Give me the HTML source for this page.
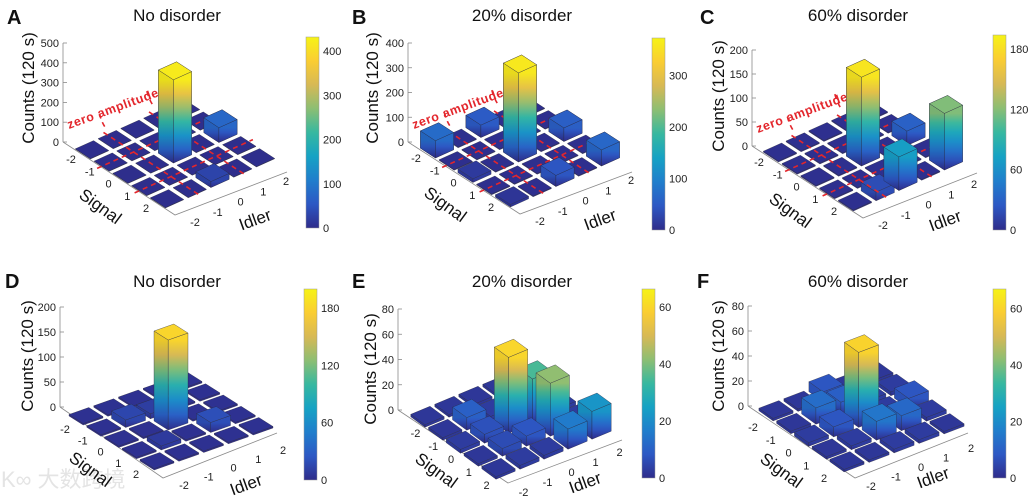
<!DOCTYPE html>
<html><head><meta charset="utf-8">
<style>
html,body{margin:0;padding:0;background:#fff;}
svg{display:block;font-family:"Liberation Sans",Arial,sans-serif;}
</style></head>
<body>
<svg id="fig" width="1030" height="503" viewBox="0 0 1030 503" xmlns="http://www.w3.org/2000/svg">
<defs id="defs"></defs>
<text x="1" y="487" font-size="22" fill="#e4e4e4" font-family="'Liberation Sans','Noto Sans CJK SC',sans-serif">K∞ 大数跨境</text>
</svg>
<script>
// rows: signal -2..2 ; columns: idler -2..2
const cellIndex = [-2,-1,0,1,2];
const valuesA = [[2,2,2,2,2],[2,2,2,2,2],[2,2,420,2,75],[2,2,2,2,2],[2,2,30,2,2]];
const valuesB = [[70,3,50,3,3],[3,3,3,3,3],[15,3,360,3,55],[3,3,3,3,3],[10,3,45,3,65]];
const valuesC = [[2,2,2,2,2],[2,2,2,2,2],[2,2,185,2,30],[2,2,2,2,2],[2,18,70,2,118]];
const valuesD = [[3,3,3,3,3],[3,15,10,3,3],[3,3,180,3,3],[3,8,3,20,3],[3,3,3,3,3]];
const valuesE = [[2,2,2,2,2],[2,10,3,10,2],[3,7,60,35,3],[2,6,8,42,3],[2,3,3,16,22]];
const valuesF = [[2,2,8,2,2],[2,13,10,3,3],[3,8,60,3,8],[2,3,15,12,3],[2,2,3,3,2]];
const zTicksA = [0,100,200,300,400,500];
const zTicksB = [0,100,200,300,400];
const zTicksC = [0,50,100,150,200];
const zTicksD = [0,50,100,150,200];
const zTicksE = [0,20,40,60,80];
const zTicksF = [0,20,40,60,80];
const cbTicksA = [0,100,200,300,400];
const cbTicksB = [0,100,200,300];
const cbTicksC = [0,60,120,180];
const cbTicksD = [0,60,120,180];
const cbTicksE = [0,20,40,60];
const cbTicksF = [0,20,40,60];
const cmaxA = 432, cmaxB = 373, cmaxC = 194, cmaxD = 200, cmaxE = 66.4, cmaxF = 67;
const titles = ["No disorder","20% disorder","60% disorder","No disorder","20% disorder","60% disorder"];
const letters = ["A","B","C","D","E","F"];

const NS="http://www.w3.org/2000/svg";
const svg=document.getElementById('fig');
const defs=document.getElementById('defs');
const PAR=[[0,[46,44,138]],[0.125,[45,88,196]],[0.25,[32,126,204]],[0.375,[22,162,196]],[0.5,[55,184,160]],[0.625,[140,190,115]],[0.75,[215,185,85]],[0.875,[250,205,50]],[1,[246,243,22]]];
function parula(t){t=Math.max(0,Math.min(1,t));for(let k=1;k<PAR.length;k++){if(t<=PAR[k][0]){const a=PAR[k-1],b=PAR[k];const f=(t-a[0])/(b[0]-a[0]);const c=a[1].map((v,j)=>Math.round(v+(b[1][j]-v)*f));return `rgb(${c[0]},${c[1]},${c[2]})`;}}return 'rgb(246,243,22)';}
function el(tag,attrs,parent){const e=document.createElementNS(NS,tag);for(const k in attrs)e.setAttribute(k,attrs[k]);(parent||svg).appendChild(e);return e;}
let gid=0;
function grad(y1,y2,tmax){const id='g'+(gid++);const g=el('linearGradient',{id:id,gradientUnits:'userSpaceOnUse',x1:0,x2:0,y1:y1,y2:y2},defs);for(let k=0;k<=6;k++){el('stop',{offset:k/6,'stop-color':parula(tmax*k/6)},g);}return id;}
function pts(a){return a.map(p=>p[0].toFixed(1)+','+p[1].toFixed(1)).join(' ');}

const panels=[
 {vals:valuesA,zt:zTicksA,cb:cbTicksA,cmax:cmaxA,C0:[175,154],sv:[18.75,12.25],iv:[22.75,-10.25],K:[63,142],F:[175,215],R:[287,172],zpx:99/500,sOff:[-21,9],iOff:[28,23],cbx:306,cbTop:37,cbBot:228,ylab:[28,88],sig:[97,205],idl:[257,219],title:[177,21],letter:[7,24],zero:true},
 {vals:valuesB,zt:zTicksB,cb:cbTicksB,cmax:cmaxB,C0:[520,153],sv:[18.75,12.25],iv:[22.75,-10.25],K:[408,142],F:[520,214],R:[632,172],zpx:99/400,sOff:[-21,9],iOff:[28,23],cbx:652,cbTop:38,cbBot:230,ylab:[372,88],sig:[442,203],idl:[602,219],title:[522,21],letter:[352,24],zero:true},
 {vals:valuesC,zt:zTicksC,cb:cbTicksC,cmax:cmaxC,C0:[863,157],sv:[18.75,12.25],iv:[22.75,-10.25],K:[752,146],F:[863,218],R:[977,173],zpx:96/200,sOff:[-21,9],iOff:[28,23],cbx:993,cbTop:35,cbBot:230,ylab:[718,96],sig:[787,209],idl:[947,220],title:[858,21],letter:[700,24],zero:true},
 {vals:valuesD,zt:zTicksD,cb:cbTicksD,cmax:cmaxD,C0:[171,422],sv:[17.75,11.25],iv:[24.75,-8.75],K:[60,407],F:[163,478],R:[277,433],zpx:100/200,sOff:[-21,12],iOff:[27,23],cbx:304,cbTop:289,cbBot:480,ylab:[27,356],sig:[87,468],idl:[248,484],title:[177,287],letter:[5,288],zero:false},
 {vals:valuesE,zt:zTicksE,cb:cbTicksE,cmax:cmaxE,C0:[511,424],sv:[17.75,13],iv:[24,-10],K:[398,410],F:[508,483],R:[622,440],zpx:101/80,sOff:[-12,15],iOff:[25,22],cbx:642,cbTop:289,cbBot:478,ylab:[370,369],sig:[433,469],idl:[587,482],title:[522,287],letter:[352,288],zero:false},
 {vals:valuesF,zt:zTicksF,cb:cbTicksF,cmax:cmaxF,C0:[861.5,418.5],sv:[17.75,12.75],iv:[25,-9.5],K:[748,406],F:[855,478],R:[968,433],zpx:100/80,sOff:[-23,15],iOff:[24,23],cbx:993,cbTop:289,cbBot:478,ylab:[718,356],sig:[778,469],idl:[935,477],title:[858,287],letter:[697,288],zero:false}
];

panels.forEach((P,pi)=>{
 const g=el('g',{});
 
 
 const pos=(a,b)=>[P.C0[0]+a*P.sv[0]+b*P.iv[0],P.C0[1]+a*P.sv[1]+b*P.iv[1]];
 const L=el('text',{x:P.letter[0],y:P.letter[1],'font-size':20,'font-weight':'bold',fill:'#111'},g);L.textContent=letters[pi];
 
 const T=el('text',{x:P.title[0],y:P.title[1],'font-size':17,'text-anchor':'middle',fill:'#111'},g);T.textContent=titles[pi];
 
 const zmax=P.zt[P.zt.length-1];
 const ax=el('g',{stroke:'#8a8a8a','stroke-width':0.8,fill:'none'},g);
 
 el('line',{x1:P.K[0],y1:P.K[1],x2:P.K[0],y2:P.K[1]-zmax*P.zpx},ax);
 el('polyline',{points:pts([P.K,P.F,P.R])},ax);
 P.zt.forEach(v=>{const y=P.K[1]-v*P.zpx;el('line',{x1:P.K[0],y1:y,x2:P.K[0]+4,y2:y},ax);
  const t=el('text',{x:P.K[0]-4,y:y+4,'font-size':11,'text-anchor':'end',fill:'#222'},g);t.textContent=v;
  });
 cellIndex.forEach(k=>{
  const a=pos(k,-2);const t=el('text',{x:a[0]+P.sOff[0],y:a[1]+P.sOff[1]+4,'font-size':11,'text-anchor':'middle',fill:'#222'},g);t.textContent=k;
  
  const b=pos(2,k);const u=el('text',{x:b[0]+P.iOff[0],y:b[1]+P.iOff[1]+4,'font-size':11,'text-anchor':'middle',fill:'#222'},g);u.textContent=k;
  
 });
 const yl=el('text',{x:0,y:0,'font-size':17,'text-anchor':'middle',fill:'#111',transform:`translate(${P.ylab[0]+6},${P.ylab[1]}) rotate(-90)`},g);yl.textContent='Counts (120 s)';
 
 const sl=el('text',{x:0,y:0,'font-size':17,'text-anchor':'middle',fill:'#111',transform:`translate(${P.sig[0]},${P.sig[1]+6}) rotate(36)`},g);sl.textContent='Signal';
 
 const il=el('text',{x:0,y:0,'font-size':17,'text-anchor':'middle',fill:'#111',transform:`translate(${P.idl[0]},${P.idl[1]+6}) rotate(-20)`},g);il.textContent='Idler';
 
 const w=0.4;
 const cells=[];
 cellIndex.forEach((s,r)=>cellIndex.forEach((i,c)=>cells.push({s:s,i:i,v:P.vals[r][c]})));
 cells.sort((a,b)=>(a.s-a.i)-(b.s-b.i));
 const drawBar=(cb,parent)=>{
  const h=cb.v*P.zpx;const t=cb.v/P.cmax;
  const b1=pos(cb.s-w,cb.i-w),b2=pos(cb.s+w,cb.i-w),b3=pos(cb.s+w,cb.i+w),b4=pos(cb.s-w,cb.i+w);
  const up=p=>[p[0],p[1]-h];
  const bg=el('g',{stroke:'#2a2a40','stroke-width':0.5,'stroke-opacity':0.7,'stroke-linejoin':'round'},parent);
  
  
  if(h>1.5){
   const gidL=grad(b2[1],b2[1]-h,t);
   el('polygon',{points:pts([b1,b2,up(b2),up(b1)]),fill:`url(#${gidL})`},bg);
   el('polygon',{points:pts([b1,b2,up(b2),up(b1)]),fill:'#000','fill-opacity':0.06,stroke:'none'},bg);
   el('polygon',{points:pts([b2,b3,up(b3),up(b2)]),fill:`url(#${gidL})`},bg);
  } else {
   el('polygon',{points:pts([b1,b2,b3,up(b3),up(b2),up(b1)]),fill:parula(0)},bg);
  }
  el('polygon',{points:pts([up(b1),up(b2),up(b3),up(b4)]),fill:parula(t)},bg);
 };
 const barsG=el('g',{},g);
 cells.forEach(cb=>drawBar(cb,barsG));
 if(P.zero){
  const rg=el('g',{stroke:'#e3262c','stroke-width':1.6,'stroke-dasharray':'5,4',fill:'none'},g);
  
  [-1,1].forEach(k=>{
   el('polyline',{points:pts([pos(-2.6,k),pos(2.6,k)])},rg);
   el('polyline',{points:pts([pos(k,-2.6),pos(k,2.6)])},rg);
  });
  const a=pos(-2.5,-1),b=pos(-2.5,1);
  el('path',{d:`M${a[0]-6},${a[1]-20} q2,8 6,14`},rg);
  el('path',{d:`M${b[0]-4},${b[1]-22} q2,8 6,14`},rg);
  const zl=el('text',{x:0,y:0,'font-size':12.5,'font-weight':'bold',fill:'#e3262c','letter-spacing':0.6,transform:`translate(${P.K[0]+6},${P.K[1]-13}) rotate(-20)`},g);
  zl.textContent='zero amplitude';
  
  const big=el('g',{},g);
  cells.filter(cb=>cb.v>=20).forEach(cb=>drawBar(cb,big));
 }
 const cgid='cb'+pi;const cg=el('linearGradient',{id:cgid,x1:0,x2:0,y1:1,y2:0},defs);
 for(let k=0;k<=8;k++)el('stop',{offset:k/8,'stop-color':parula(k/8)},cg);
 const cbr=el('rect',{x:P.cbx,y:P.cbTop,width:13,height:P.cbBot-P.cbTop,fill:`url(#${cgid})`,stroke:'#999','stroke-width':0.5},g);
 
 P.cb.forEach(v=>{const y=P.cbBot-(v/P.cmax)*(P.cbBot-P.cbTop);
  const t=el('text',{x:P.cbx+17,y:y+4,'font-size':11,fill:'#222'},g);t.textContent=v;
  });
});
</script>
</body></html>
